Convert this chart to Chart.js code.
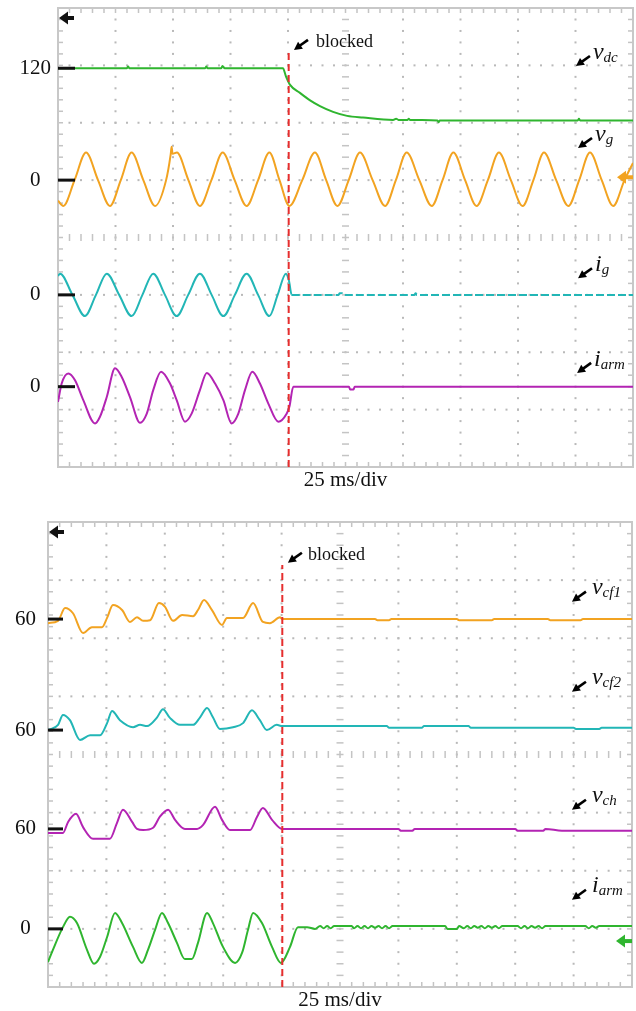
<!DOCTYPE html>
<html>
<head>
<meta charset="utf-8">
<script src="https://cdn.jsdelivr.net/npm/chart.js@4.4.1/dist/chart.umd.min.js"></script>
<style>
  html, body { margin: 0; padding: 0; background: #fff; }
  #wrap { position: relative; width: 636px; height: 1011px; overflow: hidden; }
  canvas { position: absolute; left: 0; }
  #c1 { top: 0; }
  #c2 { top: 495px; }
</style>
</head>
<body>
<div id="wrap">
  <canvas id="c1" width="636" height="495"></canvas>
  <canvas id="c2" width="636" height="516"></canvas>
</div>
<script>
// ---------- DATA (time in ms, values in screen divisions relative to each channel ground) ----------
const TIME_RANGE = [0, 250];          // 10 div x 25 ms
const DIV_RANGE = [0, 8];             // 8 vertical divisions
const BLOCK_T = 100.3;                // converter blocked instant (ms)
const X_TITLE = '25 ms/div';
const BLOCK_TEXT = 'blocked';

// Top panel
const TOP_GROUND = [6.95, 5.0, 3.0, 1.40];
const TOP_TICKS = ['120', '0', '0', '0'];

const VDC = [[0,0],[30,0],[30.5,0.03],[31,0],[64,0],[64.5,0.03],[65,0],[71,0],[71.5,0.04],[72.5,0],[97.8,0],[99.1,-0.14],
  [100.9,-0.29],[105.2,-0.43],[109.6,-0.56],[113.9,-0.66],[119.6,-0.76],[125.7,-0.83],[132.6,-0.86],[145.7,-0.90],
  [147,-0.88],[148,-0.90],[152,-0.90],[152.5,-0.88],[153,-0.90],[165,-0.91],[165.5,-0.94],[166,-0.91],[226,-0.91],
  [226.5,-0.88],[227,-0.91],[250,-0.91]];

const VG = [[0,-0.36],[2.3,-0.45],[7.2,0],[12.2,0.48],[17.4,0],[22.6,-0.45],[27.3,0],[32.0,0.48],[37.1,0],[42.2,-0.45],
  [47.0,0],[49.0,0.45],[49.4,0.58],[49.8,0.46],[51.7,0.48],[56.7,0],[61.7,-0.45],[66.7,0],[71.6,0.48],[76.8,0],[82.0,-0.45],
  [87.0,0],[91.9,0.48],[96.3,0],[100.6,-0.45],[106.2,0],[111.7,0.48],[116.6,0],[121.5,-0.45],[126.4,0],[131.3,0.48],
  [136.8,0],[142.2,-0.45],[146.9,0],[151.6,0.48],[157.1,0],[162.5,-0.45],[167.2,0],[171.9,0.48],[177.0,0],[182.0,-0.45],
  [186.9,0],[191.7,0.48],[196.9,0],[202.0,-0.45],[206.7,0],[211.3,0.48],[216.6,0],[221.9,-0.45],[226.6,0],[231.3,0.48],
  [236.4,0],[241.4,-0.45],[246.3,0],[250,0.30]];

const IG = [[0,0.33],[0.9,0.37],[6.3,0],[11.7,-0.37],[16.5,0],[21.2,0.37],[26.6,0],[32.0,-0.37],[36.7,0],[41.4,0.37],
  [46.5,0],[51.6,-0.37],[56.6,0],[61.7,0.37],[66.8,0],[71.9,-0.37],[76.9,0],[82.0,0.37],[87.0,0],[91.9,-0.37],[95.5,0],
  [99.1,0.37],[100.4,0.25],[101.6,0],[122,0],[122.5,0.03],[123.5,0.03],[124,0],[155,0],[155.5,0.03],[156,0],[250,0]];

const IARM_TOP = [[0,-0.265],[1.6,0.055],[4.5,0.23],[7.4,0.11],[11.0,-0.235],[16.1,-0.64],[18.3,-0.52],[21.2,-0.18],
  [24.8,0.32],[27.7,0.17],[31.3,-0.18],[35.7,-0.63],[38.6,-0.47],[41.4,-0.06],[44.8,0.26],[48.7,0.055],[51.6,-0.235],
  [55.2,-0.61],[58.1,-0.47],[61.7,-0.06],[64.7,0.24],[68.3,0.055],[71.9,-0.235],[75.5,-0.64],[78.4,-0.47],[81.3,-0.06],
  [84.5,0.26],[87.8,0.055],[91.4,-0.29],[95.8,-0.61],[99.4,-0.47],[100.6,-0.35],[102.3,0],[126.5,0],[127,-0.05],
  [128.5,-0.05],[129,0],[250,0]];

// Bottom panel
const BOT_GROUND = [6.33, 4.42, 2.72, 1.0];
const BOT_TICKS = ['60', '60', '60', '0'];

const VCF1 = [[0,-0.07],[4.3,-0.03],[7.3,0.19],[10.7,0.10],[15.0,-0.24],[18.8,-0.14],[23.1,-0.14],[25.3,0.02],[27.8,0.24],
  [31.7,0.155],[35.1,-0.05],[38.1,0.03],[40.7,-0.03],[43.7,-0.02],[47.5,0.275],[50.1,0.21],[53.5,-0.03],[57.4,0.07],
  [62.1,0.05],[64.2,0.155],[66.8,0.33],[70.2,0.155],[74.5,-0.10],[76.6,0.02],[83.5,0.02],[87.8,0.275],[92.0,-0.05],
  [95.0,-0.07],[99.3,0.03],[100.2,0],[140,0],[141,-0.02],[146,-0.02],[147,0],[175,0],[176,-0.02],[190,-0.02],[191,0],
  [214,0],[215,-0.02],[228,-0.02],[229,0],[250,0]];

const VCF2 = [[0,0],[4.3,0.09],[6.4,0.26],[9.4,0.17],[13.7,-0.17],[18.0,-0.09],[22.3,-0.09],[25.3,0.12],[27.4,0.33],
  [30.8,0.17],[36.4,0.05],[39.4,0.09],[42.4,0.07],[46.7,0.22],[49.2,0.36],[52.2,0.21],[56.5,0.09],[62.1,0.09],[65.1,0.22],
  [68.1,0.38],[70.6,0.22],[73.6,0.02],[79.2,0.05],[83.5,0.12],[87.3,0.34],[90.7,0.17],[93.7,0.0],[97.9,0.09],[100.2,0.07],
  [145,0.07],[146,0.04],[160,0.04],[161,0.07],[180,0.07],[181,0.04],[225,0.04],[226,0.02],[236,0.02],[237,0.04],[250,0.04]];

const VCH = [[0,-0.07],[6.4,-0.07],[8.6,0.12],[12.0,0.26],[15.0,0.03],[19.3,-0.17],[26.5,-0.17],[29.5,0.10],[32.1,0.33],
  [36.0,0.12],[38.1,0.0],[40.7,-0.02],[45.0,0.02],[47.9,0.21],[51.4,0.33],[54.4,0.155],[58.6,0.0],[63.8,0.0],[66.4,0.07],
  [71.5,0.38],[74.5,0.155],[77.9,-0.02],[86.5,-0.02],[89.5,0.21],[92.0,0.36],[95.9,0.155],[100.2,0],[150,0],[151,-0.03],
  [156,-0.03],[157,0],[200,0],[201,-0.03],[212,-0.03],[213,0],[220,-0.03],[250,-0.03]];

const IARM_BOT = [[0,-0.57],[2.1,-0.36],[6.4,0.03],[9.4,0.21],[12.4,0.10],[16.7,-0.36],[19.7,-0.60],[22.3,-0.48],
  [25.3,-0.14],[28.7,0.275],[31.7,0.10],[36.4,-0.31],[40.2,-0.585],[42.8,-0.36],[45.8,-0.02],[48.8,0.275],[51.4,0.10],
  [55.2,-0.24],[58.6,-0.52],[61.6,-0.52],[64.2,-0.24],[68.1,0.275],[70.6,0.10],[74.9,-0.31],[80.1,-0.585],[83.1,-0.41],
  [85.6,-0.02],[87.8,0.275],[91.6,0.10],[95.9,-0.31],[99.7,-0.585],[103.6,-0.31],[107.0,0.03],[110.9,0.03],[114.3,0.0],
  [116.5,0.05],[118,0.01],[119.5,0.05],[121,0.01],[122.5,0.05],[124,0.05],[130,0.05],[131,0.01],[132.5,0.05],[134,0.01],
  [135.5,0.05],[137,0.01],[138.5,0.05],[140,0.02],[141.5,0.05],[143,0.01],[144.5,0.05],[146,0.01],[147.5,0.05],[149,0.05],
  [170,0.05],[171,0.0],[175,0.0],[176,0.05],[178,0.01],[179.5,0.05],[181,0.01],[182.5,0.05],[184,0.02],[185.5,0.05],
  [187,0.01],[188.5,0.05],[190,0.02],[191.5,0.05],[193,0.01],[194.5,0.05],[196,0.05],[201,0.05],[202.5,0.01],[204,0.05],
  [205.5,0.01],[207,0.05],[208.5,0.02],[210,0.05],[211.5,0.01],[213,0.05],[230,0.05],[231.5,0.01],[233,0.05],[234.5,0.02],
  [236,0.05],[250,0.05]];

// Label anchors (arrow tip position, data units)
const TOP_LABELS = [
  { m: 'v', s: 'dc',  t: 225.2, d: 6.99 },
  { m: 'v', s: 'g',   t: 226.1, d: 5.56 },
  { m: 'i', s: 'g',   t: 226.1, d: 3.29 },
  { m: 'i', s: 'arm', t: 225.7, d: 1.64 }
];
const BOT_LABELS = [
  { m: 'v', s: 'cf1', t: 224.3, d: 6.63 },
  { m: 'v', s: 'cf2', t: 224.3, d: 5.08 },
  { m: 'v', s: 'ch',  t: 224.3, d: 3.05 },
  { m: 'i', s: 'arm', t: 224.3, d: 1.50 }
];

// ---------- STYLE ----------
const GREEN = '#2fb52f', ORANGE = '#f2a321', CYAN = '#22b6b6', MAGENTA = '#b324b3', RED = '#e62e2e';
const SERIF = '"Liberation Serif", "Times New Roman", serif';

function pts(arr, off) { return arr.map(([t, v]) => ({ x: t, y: off + v })); }

function arrowLeft(ctx, tipX, y, color, len, half, shaftW, headLen) {
  ctx.fillStyle = color; ctx.strokeStyle = color;
  ctx.beginPath();
  ctx.moveTo(tipX, y); ctx.lineTo(tipX + headLen, y - half); ctx.lineTo(tipX + headLen, y + half); ctx.closePath(); ctx.fill();
  ctx.lineWidth = shaftW; ctx.beginPath(); ctx.moveTo(tipX + headLen - 2, y); ctx.lineTo(tipX + len, y); ctx.stroke();
}
function labelArrow(ctx, x, y) {
  const tx = x + 14, ty = y - 10;
  const L = Math.hypot(tx - x, ty - y), ux = (tx - x) / L, uy = (ty - y) / L;
  const bx = x + ux * 8, by = y + uy * 8, px = -uy, py = ux;
  ctx.fillStyle = '#000'; ctx.strokeStyle = '#000';
  ctx.beginPath(); ctx.moveTo(x, y); ctx.lineTo(bx + px * 4.2, by + py * 4.2); ctx.lineTo(bx - px * 4.2, by - py * 4.2);
  ctx.closePath(); ctx.fill();
  ctx.lineWidth = 2.6; ctx.beginPath(); ctx.moveTo(bx - ux, by - uy); ctx.lineTo(tx, ty); ctx.stroke();
}
function subLabel(ctx, x, y, main, sub) {
  ctx.fillStyle = '#111'; ctx.textAlign = 'left'; ctx.textBaseline = 'alphabetic';
  ctx.font = 'italic 24px ' + SERIF; ctx.fillText(main, x, y);
  const w = ctx.measureText(main).width;
  ctx.font = 'italic 15px ' + SERIF; ctx.fillText(sub, x + w, y + 3);
}

function makeScope(cfg) {
  return {
    id: 'scope',
    beforeDatasetsDraw(chart) {
      const { ctx, chartArea: a } = chart;
      const dx = a.width / 10, dy = a.height / 8;
      ctx.save();
      ctx.fillStyle = '#b9b9b9';
      for (let i = 1; i < 10; i++) {
        if (i === 5) continue;
        for (let k = 0; k <= 40; k++) ctx.fillRect(a.left + i * dx - 1, a.top + k * dy / 5 - 1, 2, 2);
      }
      for (let j = 1; j < 8; j++) {
        if (j === 4) continue;
        for (let k = 0; k <= 50; k++) ctx.fillRect(a.left + k * dx / 5 - 1, a.top + j * dy - 1, 2, 2);
      }
      ctx.fillStyle = '#c4c4c4';
      const cx = a.left + 5 * dx, cy = a.top + 4 * dy;
      for (let k = 1; k < 40; k++) ctx.fillRect(cx - 3.5, a.top + k * dy / 5 - 0.75, 7, 1.5);
      for (let k = 1; k < 50; k++) ctx.fillRect(a.left + k * dx / 5 - 0.75, cy - 3.5, 1.5, 7);
      for (let k = 1; k < 50; k++) {
        const x = a.left + k * dx / 5;
        ctx.fillRect(x - 0.75, a.top, 1.5, 5); ctx.fillRect(x - 0.75, a.bottom - 5, 1.5, 5);
      }
      for (let k = 1; k < 40; k++) {
        const y = a.top + k * dy / 5;
        ctx.fillRect(a.left, y - 0.75, 5, 1.5); ctx.fillRect(a.right - 5, y - 0.75, 5, 1.5);
      }
      ctx.strokeStyle = '#c8c8c8'; ctx.lineWidth = 2;
      ctx.strokeRect(a.left, a.top, a.width, a.height);
      ctx.restore();
    },
    afterDatasetsDraw(chart) {
      const { ctx, chartArea: a, scales: { x, y } } = chart;
      ctx.save();
      // channel ground markers
      ctx.fillStyle = '#111';
      cfg.ground.forEach(g => { const py = y.getPixelForValue(g); ctx.fillRect(a.left, py - 1.5, cfg.markLen, 3); });
      // top-left black arrow
      arrowLeft(ctx, a.left + 1, a.top + 10, '#111', 15, 6.5, 4, 9);
      // trigger arrow on the right
      arrowLeft(ctx, a.right - 16, y.getPixelForValue(cfg.trig.d), cfg.trig.c, 16, 6.5, 4, 9);
      // blocked label
      labelArrow(ctx, x.getPixelForValue(cfg.block.t), y.getPixelForValue(cfg.block.d));
      ctx.fillStyle = '#111'; ctx.font = '18px ' + SERIF; ctx.textAlign = 'left'; ctx.textBaseline = 'alphabetic';
      ctx.fillText(BLOCK_TEXT, x.getPixelForValue(cfg.block.tt), y.getPixelForValue(cfg.block.td));
      // trace labels
      cfg.labels.forEach(l => {
        const px = x.getPixelForValue(l.t), py = y.getPixelForValue(l.d);
        labelArrow(ctx, px, py);
        subLabel(ctx, px + cfg.tdx, py + cfg.tdy, l.m, l.s);
      });
      // time base text
      ctx.fillStyle = '#111'; ctx.font = '21px ' + SERIF; ctx.textAlign = 'center';
      ctx.fillText(X_TITLE, (a.left + a.right) / 2, a.bottom + 19);
      ctx.restore();
    }
  };
}

function lineDs(data, color, extra) {
  return Object.assign({ data, borderColor: color, borderWidth: 2, pointRadius: 0, fill: false,
    cubicInterpolationMode: 'monotone' }, extra || {});
}

function makeChart(id, cfg) {
  const datasets = [
    lineDs([{ x: BLOCK_T, y: 0 }, { x: BLOCK_T, y: cfg.blockTop }], RED,
      { borderDash: [7, 4], borderWidth: 2, cubicInterpolationMode: 'default', tension: 0 })
  ].concat(cfg.series);
  return new Chart(document.getElementById(id), {
    type: 'line',
    data: { datasets },
    options: {
      responsive: false, animation: false, devicePixelRatio: 1,
      layout: { padding: cfg.pad },
      plugins: { legend: { display: false }, tooltip: { enabled: false } },
      scales: {
        x: { type: 'linear', min: TIME_RANGE[0], max: TIME_RANGE[1], display: false },
        y: {
          type: 'linear', min: DIV_RANGE[0], max: DIV_RANGE[1],
          grid: { display: false, drawTicks: false }, border: { display: false },
          afterBuildTicks: s => { s.ticks = cfg.ground.map(v => ({ value: v })); },
          afterFit: s => { s.width = cfg.axisW; s.paddingTop = 0; s.paddingBottom = 0; },
          ticks: {
            autoSkip: false, padding: cfg.tickPad, crossAlign: 'center', color: '#111',
            font: { family: SERIF, size: 21 },
            callback: (v, i) => cfg.tickLabels[i]
          }
        }
      }
    },
    plugins: [makeScope(cfg)]
  });
}

makeChart('c1', {
  pad: { top: 8, right: 3, bottom: 28, left: 0 }, axisW: 58, tickPad: 7, markLen: 17,
  ground: TOP_GROUND, tickLabels: TOP_TICKS, blockTop: 7.23,
  trig: { d: 5.05, c: ORANGE },
  block: { t: 102.6, d: 7.27, tt: 112.2, td: 7.32 },
  labels: TOP_LABELS, tdx: 17, tdy: -7,
  series: [
    lineDs(pts(VDC, TOP_GROUND[0]), GREEN),
    lineDs(pts(VG, TOP_GROUND[1]), ORANGE),
    lineDs(pts(IG, TOP_GROUND[2]), CYAN, { segment: { borderDash: c => (c.p0.parsed.x >= 101.6 ? [8, 3] : undefined) } }),
    lineDs(pts(IARM_TOP, TOP_GROUND[3]), MAGENTA)
  ]
});

makeChart('c2', {
  pad: { top: 27, right: 4, bottom: 24, left: 0 }, axisW: 48, tickPad: 12, markLen: 15,
  ground: BOT_GROUND, tickLabels: BOT_TICKS, blockTop: 7.26,
  trig: { d: 0.79, c: GREEN },
  block: { t: 102.7, d: 7.30, tt: 111.3, td: 7.35 },
  labels: BOT_LABELS, tdx: 20, tdy: -8,
  series: [
    lineDs(pts(VCF1, BOT_GROUND[0]), ORANGE),
    lineDs(pts(VCF2, BOT_GROUND[1]), CYAN),
    lineDs(pts(VCH, BOT_GROUND[2]), MAGENTA),
    lineDs(pts(IARM_BOT, BOT_GROUND[3]), GREEN)
  ]
});
</script>
</body>
</html>
